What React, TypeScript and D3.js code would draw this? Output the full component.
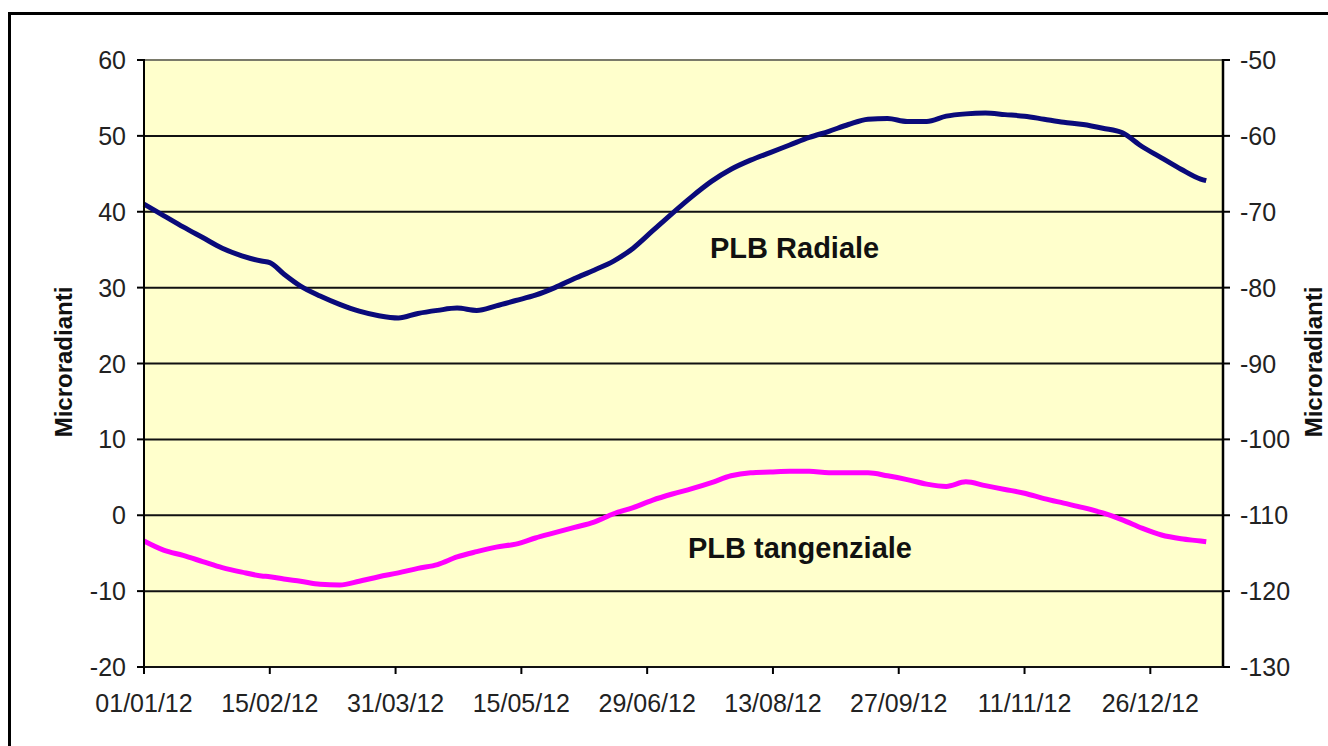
import React from "react";
import * as d3 from "d3";

// days since 01/01/12
const days = [0, 7, 14, 21, 28, 35, 42, 45, 50, 56, 63, 70, 77, 84, 91, 98, 105, 112, 119, 126, 133, 140, 147, 154, 161, 168, 175, 182, 189, 196, 203, 210, 217, 224, 231, 238, 245, 252, 259, 266, 273, 280, 287, 294, 301, 308, 315, 322, 329, 336, 343, 350, 357, 364, 371, 378, 380];

const radiale = [41.0, 39.5, 38.0, 36.6, 35.2, 34.2, 33.5, 33.3, 31.8, 30.2, 28.9, 27.8, 26.9, 26.3, 26.0, 26.6, 27.0, 27.3, 27.0, 27.6, 28.3, 29.0, 30.0, 31.2, 32.3, 33.5, 35.2, 37.5, 39.8, 42.0, 44.0, 45.6, 46.8, 47.8, 48.8, 49.8, 50.6, 51.5, 52.2, 52.3, 51.9, 51.9, 52.6, 52.9, 53.0, 52.8, 52.6, 52.2, 51.8, 51.5, 51.0, 50.4, 48.6, 47.1, 45.6, 44.3, 44.1];

const tangenziale = [-3.4, -4.6, -5.3, -6.1, -6.9, -7.5, -8.0, -8.1, -8.4, -8.7, -9.1, -9.2, -8.7, -8.1, -7.6, -7.0, -6.5, -5.5, -4.8, -4.2, -3.8, -3.0, -2.3, -1.6, -0.9, 0.2, 1.0, 2.0, 2.8, 3.5, 4.3, 5.2, 5.6, 5.7, 5.8, 5.8, 5.6, 5.6, 5.6, 5.2, 4.7, 4.1, 3.8, 4.4, 3.9, 3.4, 2.9, 2.2, 1.6, 1.0, 0.3, -0.6, -1.7, -2.6, -3.1, -3.4, -3.5];

const leftTicks = [-20, -10, 0, 10, 20, 30, 40, 50, 60];
const rightTicks = [-130, -120, -110, -100, -90, -80, -70, -60, -50];
const tickEveryDays = 45;
const tickCount = 9;

const start = new Date(2012, 0, 1);
const fmt = d3.timeFormat("%d/%m/%y");

const W = 1328;
const H = 746;
const left = 144;
const right = 1223;
const top = 60;
const bottom = 667;
const font = "Arial, 'Liberation Sans', sans-serif";

const App: React.FC = () => {
  const x = d3
    .scaleTime()
    .domain([start, d3.timeDay.offset(start, 386)])
    .range([left, right]);
  const y = d3.scaleLinear().domain([-20, 60]).range([bottom, top]);
  const yR = d3.scaleLinear().domain([-130, -50]).range([bottom, top]);

  const xTicks = d3.range(tickCount).map((i) => d3.timeDay.offset(start, i * tickEveryDays));

  const line = d3
    .line<[number, number]>()
    .x((d) => x(d3.timeDay.offset(start, d[0])))
    .y((d) => y(d[1]))
    .curve(d3.curveMonotoneX);

  const blue = days.map((d, i) => [d, radiale[i]] as [number, number]);
  const pink = days.map((d, i) => [d, tangenziale[i]] as [number, number]);

  return (
    <svg width={W} height={H} style={{ position: "absolute", left: 0, top: 0, background: "#fff" }}>
      {/* outer frame */}
      <line x1={9.5} y1={13} x2={9.5} y2={H} stroke="#000" strokeWidth={3} />
      <line x1={8} y1={13.5} x2={W} y2={13.5} stroke="#000" strokeWidth={3} />

      {/* plot area */}
      <rect x={left} y={top} width={right - left} height={bottom - top} fill="#FFFFCC" />
      <line x1={left} y1={top} x2={right} y2={top} stroke="#7a7a6a" strokeWidth={2} />

      {/* gridlines */}
      {leftTicks.slice(1, -1).map((t) => (
        <line key={t} x1={left} x2={right} y1={y(t)} y2={y(t)} stroke="#111" strokeWidth={2} />
      ))}

      {/* series */}
      <path d={line(pink) || ""} fill="none" stroke="#FF00FF" strokeWidth={5} strokeLinejoin="round" />
      <path d={line(blue) || ""} fill="none" stroke="#0A0A7A" strokeWidth={5} strokeLinejoin="round" />

      {/* axes */}
      <line x1={left} y1={top - 1} x2={left} y2={bottom + 1} stroke="#000" strokeWidth={2} />
      <line x1={right} y1={top - 1} x2={right} y2={bottom + 1} stroke="#000" strokeWidth={2.5} />
      <line x1={left} y1={bottom} x2={right} y2={bottom} stroke="#111" strokeWidth={2} />

      {leftTicks.map((t) => (
        <g key={t}>
          <line x1={left - 7} x2={left} y1={y(t)} y2={y(t)} stroke="#000" strokeWidth={2} />
          <text x={126} y={y(t)} dy="0.36em" textAnchor="end" fontFamily={font} fontSize={25} fill="#222">
            {t}
          </text>
        </g>
      ))}
      {rightTicks.map((t) => (
        <g key={t}>
          <line x1={right} x2={right + 7} y1={yR(t)} y2={yR(t)} stroke="#000" strokeWidth={2} />
          <text x={1240} y={yR(t)} dy="0.36em" textAnchor="start" fontFamily={font} fontSize={25} fill="#222">
            {t}
          </text>
        </g>
      ))}
      {xTicks.map((t, i) => (
        <g key={i}>
          <line x1={x(t)} x2={x(t)} y1={bottom} y2={bottom + 7} stroke="#000" strokeWidth={2} />
          <text x={x(t)} y={712} textAnchor="middle" fontFamily={font} fontSize={25} fill="#222">
            {fmt(t)}
          </text>
        </g>
      ))}

      {/* axis titles */}
      <text
        transform={`translate(72, 362) rotate(-90)`}
        textAnchor="middle"
        fontFamily={font}
        fontWeight="bold"
        fontSize={24}
        fill="#111"
      >
        Microradianti
      </text>
      <text
        transform={`translate(1322, 362) rotate(-90)`}
        textAnchor="middle"
        fontFamily={font}
        fontWeight="bold"
        fontSize={24}
        fill="#111"
      >
        Microradianti
      </text>

      {/* series labels */}
      <text x={710} y={258} fontFamily={font} fontWeight="bold" fontSize={29} fill="#111">
        PLB Radiale
      </text>
      <text x={688} y={558} fontFamily={font} fontWeight="bold" fontSize={29} fill="#111">
        PLB tangenziale
      </text>
    </svg>
  );
};

export default App;
